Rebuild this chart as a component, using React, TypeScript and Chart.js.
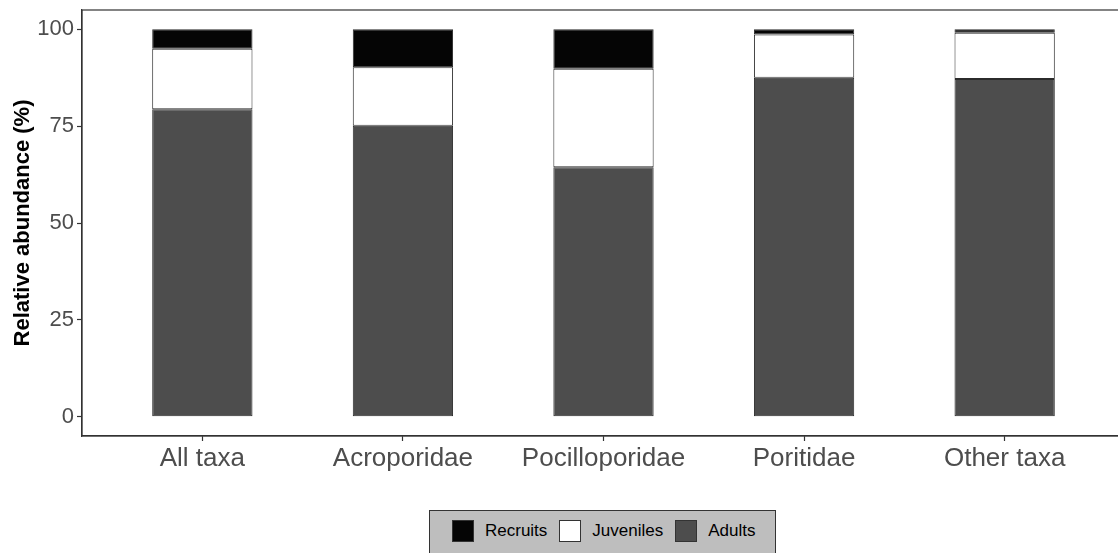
import React, { useEffect, useRef } from "react";
import { Chart, registerables } from "chart.js";

Chart.register(...registerables);

const categories = ["All taxa", "Acroporidae", "Pocilloporidae", "Poritidae", "Other taxa"];
const adults = [79.4, 75.1, 64.4, 87.5, 87.2];
const juveniles = [15.6, 15.1, 25.4, 11.2, 11.9];
const recruits = [5.0, 9.8, 10.2, 1.3, 0.9];
const yTicks = [0, 25, 50, 75, 100];

const seriesNames = ["Adults", "Juveniles", "Recruits"];
const seriesColors = ["#4d4d4d", "#ffffff", "#050505"];
const legendOrder = [2, 1, 0];

const FONT = "'Liberation Sans', Arial, Helvetica, sans-serif";
const AXIS_COLOR = "#333333";

const panelBorder = {
  id: "panelBorder",
  afterDraw(chart: any) {
    const { ctx, chartArea } = chart;
    ctx.save();
    ctx.strokeStyle = AXIS_COLOR;
    ctx.lineWidth = 1.2;
    ctx.strokeRect(chartArea.left, chartArea.top, chartArea.right - chartArea.left, chartArea.bottom - chartArea.top);
    ctx.restore();
  },
};

export default function App() {
  const ref = useRef<HTMLCanvasElement>(null);

  useEffect(() => {
    if (!ref.current) return;
    const values = [adults, juveniles, recruits];
    const chart = new Chart(ref.current, {
      type: "bar",
      data: {
        datasets: values.map((vals, i) => ({
          label: seriesNames[i],
          data: vals.map((v, j) => ({ x: j, y: v })),
          backgroundColor: seriesColors[i],
          borderColor: "#2b2b2b",
          borderWidth: 1,
          borderSkipped: false,
          barPercentage: 0.5,
          categoryPercentage: 1.0,
          stack: "s",
        })),
      },
      plugins: [panelBorder],
      options: {
        responsive: false,
        animation: false,
        layout: { padding: { top: 10, right: 0, left: 0, bottom: 0 } },
        plugins: {
          legend: { display: false },
          tooltip: { enabled: false },
        },
        scales: {
          x: {
            type: "linear",
            stacked: true,
            offset: false,
            min: -0.6,
            max: 4.6,
            afterBuildTicks: (scale: any) => {
              scale.ticks = categories.map((_, i) => ({ value: i }));
            },
            afterFit: (scale: any) => {
              scale.height = 117;
              scale.paddingLeft = 0;
              scale.paddingRight = 0;
            },
            ticks: {
              autoSkip: false,
              maxRotation: 0,
              padding: 2,
              color: "#4d4d4d",
              font: { family: FONT, size: 26 },
              callback: (v: any) => categories[Math.round(Number(v))] ?? "",
            },
            grid: {
              offset: false,
              drawOnChartArea: false,
              drawTicks: true,
              tickLength: 5,
              tickColor: AXIS_COLOR,
              tickWidth: 1.2,
            },
            border: { display: true, color: AXIS_COLOR, width: 1.2 },
          },
          y: {
            stacked: true,
            min: -5,
            max: 105,
            afterBuildTicks: (scale: any) => {
              scale.ticks = yTicks.map((v) => ({ value: v }));
            },
            afterFit: (scale: any) => {
              scale.width = 82;
              scale.paddingTop = 0;
              scale.paddingBottom = 0;
            },
            ticks: {
              padding: 3,
              color: "#4d4d4d",
              font: { family: FONT, size: 22 },
              callback: (v: any) => String(v),
            },
            grid: {
              drawOnChartArea: false,
              drawTicks: true,
              tickLength: 5,
              tickColor: AXIS_COLOR,
              tickWidth: 1.2,
            },
            border: { display: true, color: AXIS_COLOR, width: 1.2 },
            title: {
              display: true,
              text: "Relative abundance (%)",
              color: "#000000",
              font: { family: FONT, size: 22, weight: "bold" },
              padding: { top: 10, bottom: 0 },
            },
          },
        },
      },
    });
    return () => chart.destroy();
  }, []);

  return (
    <div
      style={{
        position: "fixed",
        left: 0,
        top: 0,
        width: 1118,
        height: 553,
        overflow: "hidden",
        background: "#ffffff",
      }}
    >
      <canvas ref={ref} width={1125} height={553} style={{ position: "absolute", left: 0, top: 0 }} />
      <div
        style={{
          position: "absolute",
          left: 429,
          top: 510,
          width: 347,
          height: 46,
          boxSizing: "border-box",
          background: "#bebebe",
          border: "1.2px solid #333333",
          display: "flex",
          alignItems: "center",
          paddingLeft: 22,
          paddingBottom: 4,
          fontFamily: FONT,
          fontSize: 17,
          color: "#000000",
        }}
      >
        {legendOrder.map((i) => (
          <div key={seriesNames[i]} style={{ display: "flex", alignItems: "center", marginRight: 12 }}>
            <div
              style={{
                width: 22,
                height: 22,
                boxSizing: "border-box",
                background: seriesColors[i],
                border: "1px solid #333333",
                marginRight: 11,
              }}
            />
            <span>{seriesNames[i]}</span>
          </div>
        ))}
      </div>
    </div>
  );
}
